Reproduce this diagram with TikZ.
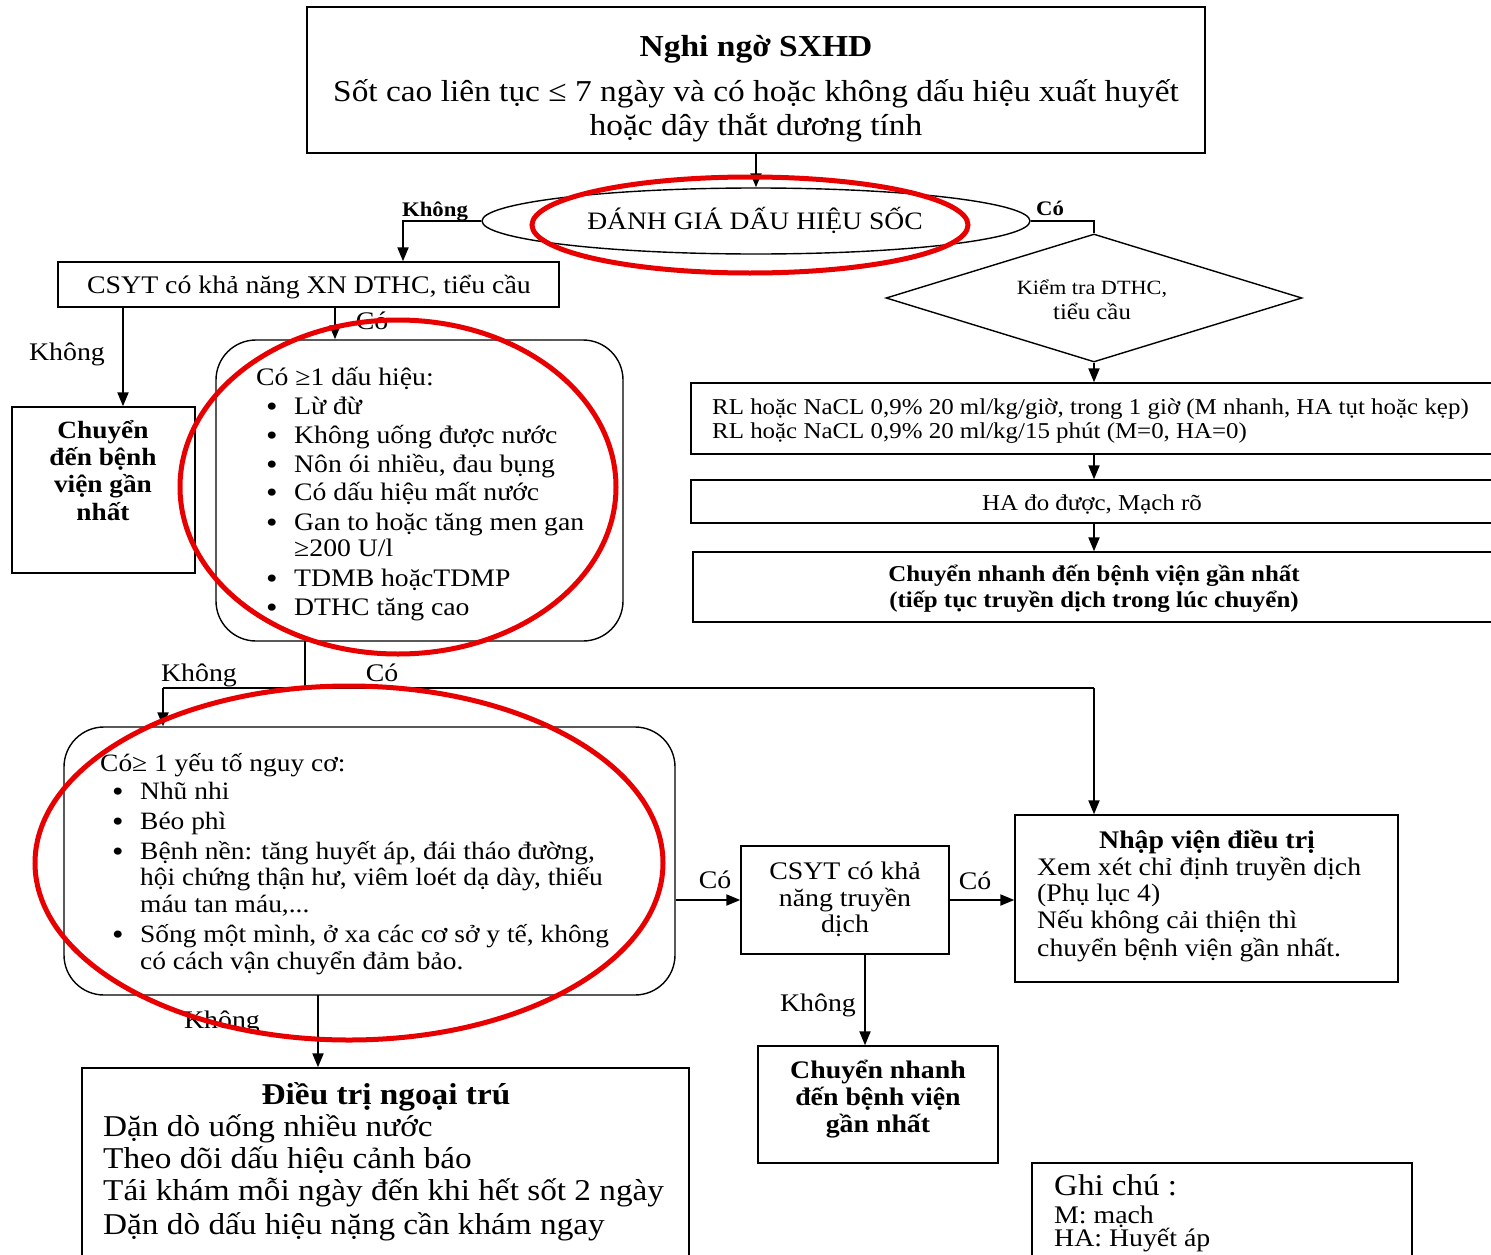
\documentclass[tikz,border=0pt]{standalone}
\usepackage{fontspec}
\setmainfont[FakeStretch=1.1]{Liberation Serif}
\usetikzlibrary{arrows.meta,shapes.geometric,fit}
% font size helper: sizes given in picture pixels, scaled once here
\newcommand{\fsz}[1]{\fontsize{\fpeval{#1*1.15}}{\fpeval{#1*1.15}}\selectfont}
\definecolor{ringred}{RGB}{232,0,0}
\tikzset{
  box/.style={draw, line width=1.4pt, inner sep=0pt},
  rbox/.style={box, rounded corners=40pt},
  arr/.style={line width=2pt, -{Triangle[length=14pt,width=11pt]}},
  ln/.style={line width=1.6pt},
  redring/.style={draw=ringred, line width=5pt, ellipse, inner sep=0pt},
  t/.style={inner sep=0pt, anchor=mid, yshift=-6.5pt},
  tl/.style={inner sep=0pt, anchor=mid west, yshift=-6.5pt},
  bul/.style={inner sep=0pt, anchor=base, yshift=-10.5pt, font=\fsz{26}},
}
\begin{document}
\begin{tikzpicture}[x=1pt,y=-1pt]
\useasboundingbox[fill=white] (0,0) rectangle (1491,1255);

% ---- boxes ----
\node[box, fit={(307,7) (1205,153)}] (top) {};
\node[box, ellipse, minimum width=548pt, minimum height=66pt] (shock) at (756,221) {};
\node[box, diamond, minimum width=416pt, minimum height=128pt] (dia) at (1094,298) {};
\node[box, fit={(691,383) (1500,454)}] (rl) {};
\node[box, fit={(691,480) (1500,523)}] (ha) {};
\node[box, fit={(693,552) (1500,622)}] (chn) {};
\node[box, fit={(58,262) (559,307)}] (csyt) {};
\node[box, fit={(12,407) (195,573)}] (cbv) {};
\node[rbox, fit={(216,340) (623,641)}] (sig) {};
\node[rbox, fit={(64,727) (675,995)}] (risk) {};
\node[box, fit={(741,846) (949,954)}] (csyt2) {};
\node[box, fit={(1015,815) (1398,982)}] (adm) {};
\node[box, fit={(758,1046) (998,1163)}] (cnb) {};
\node[box, fit={(82,1068) (689,1275)}] (out) {};
\node[box, fit={(1032,1163) (1412,1275)}] (note) {};

% ---- junction points ----
\coordinate (kL) at (403,221);
\coordinate (a1) at (123,307);
\coordinate (a2) at (335,307);
\coordinate (a3) at (305,641);
\coordinate (jl) at (163,688);
\coordinate (jr) at (1094,688);
\coordinate (a5) at (865,954);
\coordinate (a6) at (318,995);

% ---- connectors ----
\draw[arr] (top.south) -- (shock.north);
\draw[arr] (shock.west) -- (kL) -- (kL |- csyt.north);
\draw[ln] (shock.east) -| (dia.north);
\draw[arr] (dia.south) -- (dia.south |- rl.north);
\draw[arr] (rl.south -| dia.south) -- (ha.north -| dia.south);
\draw[arr] (ha.south -| dia.south) -- (chn.north -| dia.south);
\draw[arr] (a1) -- (a1 |- cbv.north);
\draw[arr] (a2) -- (a2 |- sig.north);
\draw[ln] (a3) -- (a3 |- jl);
\draw[ln] (jl) -- (jr);
\draw[arr] (jl) -- (jl |- risk.north);
\draw[arr] (jr) -- (jr |- adm.north);
\draw[arr] (csyt2.west -| risk.east) -- (csyt2.west);
\draw[arr] (csyt2.east) -- (csyt2.east -| adm.west);
\draw[arr] (a5) -- (a5 |- cnb.north);
\draw[arr] (a6) -- (a6 |- out.north);

% ---- texts ----
\node[t, font=\bfseries\fsz{26.5}] (t1) at (756,48) {Nghi ngờ SXHD};
\node[t, font=\fsz{26.4}] (t2) at (756,93) {Sốt cao liên tục ≤ 7 ngày và có hoặc không dấu hiệu xuất huyết};
\node[t, font=\fsz{26.4}] (t3) at (756,127) {hoặc dây thắt dương tính};
\node[t, font=\fsz{21.8}] (t4) at (755,221) {ĐÁNH GIÁ DẤU HIỆU SỐC};
\node[t, font=\bfseries\fsz{18}] (l1) at (435,208) {Không};
\node[t, font=\bfseries\fsz{18}] (l2) at (1050,207) {Có};
\node[t, font=\fsz{17.6}] (d1) at (1092,286) {Kiểm tra DTHC,};
\node[t, font=\fsz{19.6}] (d2) at (1092,311) {tiểu cầu};
\node[tl, font=\fsz{19.7}] (r1) at (712,406) {RL hoặc NaCL 0,9\% 20 ml/kg/giờ, trong 1 giờ (M nhanh, HA tụt hoặc kẹp)};
\node[tl, font=\fsz{19.7}] (r2) at (712,430) {RL hoặc NaCL 0,9\% 20 ml/kg/15 phút (M=0, HA=0)};
\node[t, font=\fsz{19.7}] (h1) at (1092,502) {HA đo được, Mạch rõ};
\node[t, font=\bfseries\fsz{19.7}] (c1) at (1094,573) {Chuyển nhanh đến bệnh viện gần nhất};
\node[t, font=\bfseries\fsz{19.7}] (c2) at (1094,599) {(tiếp tục truyền dịch trong lúc chuyển)};

\node[t, font=\fsz{22}] (s0) at (309,285) {CSYT có khả năng XN DTHC, tiểu cầu};
\node[t, font=\fsz{22}] (l3) at (67,352) {Không};
\node[t, font=\fsz{22}] (l4) at (372,321) {Có};
\node[t, font=\bfseries\fsz{21.6}] (b1) at (103,430) {Chuyển};
\node[t, font=\bfseries\fsz{21.6}] (b2) at (103,457) {đến bệnh};
\node[t, font=\bfseries\fsz{21.6}] (b3) at (103,484) {viện gần};
\node[t, font=\bfseries\fsz{21.6}] (b4) at (103,512) {nhất};

\begin{scope}[every node/.style={tl, font=\fsz{21.9}}]
\node (g0) at (256,377) {Có ≥1 dấu hiệu:};
\node (g1) at (294,406) {Lừ đừ};
\node (g2) at (294,435) {Không uống được nước};
\node (g3) at (294,464) {Nôn ói nhiều, đau bụng};
\node (g4) at (294,492) {Có dấu hiệu mất nước};
\node (g5) at (294,522) {Gan to hoặc tăng men gan};
\node (g6) at (294,548) {≥200 U/l};
\node (g7) at (294,578) {TDMB hoặcTDMP};
\node (g8) at (294,607) {DTHC tăng cao};
\end{scope}
\foreach \yy [count=\i] in {406,435,464,492,522,578,607} \node[bul] (gb\i) at (272,\yy) {•};

\node[t, font=\fsz{22}] (l5) at (199,673) {Không};
\node[t, font=\fsz{22}] (l6) at (382,673) {Có};

\begin{scope}[every node/.style={tl, font=\fsz{21.7}}]
\node (k0) at (100,763) {Có≥ 1 yếu tố nguy cơ:};
\node (k1) at (140,791) {Nhũ nhi};
\node (k2) at (140,821) {Béo phì};
\node (k3) at (140,851) {Bệnh nền: tăng huyết áp, đái tháo đường,};
\node (k4) at (140,877) {hội chứng thận hư, viêm loét dạ dày, thiếu};
\node (k5) at (140,904) {máu tan máu,...};
\node (k6) at (140,934) {Sống một mình, ở xa các cơ sở y tế, không};
\node (k7) at (140,961) {có cách vận chuyển đảm bảo.};
\end{scope}
\foreach \yy [count=\i] in {791,821,851,934} \node[bul] (kb\i) at (118,\yy) {•};

\node[t, font=\fsz{22}] (l7) at (715,880) {Có};
\node[t, font=\fsz{22}] (l8) at (975,881) {Có};
\node[t, font=\fsz{22}] (m1) at (845,871) {CSYT có khả};
\node[t, font=\fsz{22}] (m2) at (845,898) {năng truyền};
\node[t, font=\fsz{22}] (m3) at (845,924) {dịch};

\node[t, font=\bfseries\fsz{22}] (n0) at (1207,840) {Nhập viện điều trị};
\begin{scope}[every node/.style={tl, font=\fsz{21.9}}]
\node (n1) at (1037,867) {Xem xét chỉ định truyền dịch};
\node (n2) at (1037,893) {(Phụ lục 4)};
\node (n3) at (1037,920) {Nếu không cải thiện thì};
\node (n4) at (1037,948) {chuyển bệnh viện gần nhất.};
\end{scope}

\node[t, font=\fsz{22}] (l9) at (818,1003) {Không};
\node[t, font=\bfseries\fsz{22}] (q1) at (878,1070) {Chuyển nhanh};
\node[t, font=\bfseries\fsz{22}] (q2) at (878,1097) {đến bệnh viện};
\node[t, font=\bfseries\fsz{22}] (q3) at (878,1124) {gần nhất};

\node[t, font=\fsz{22}] (l10) at (222,1020) {Không};
\node[t, font=\bfseries\fsz{26.3}] (o0) at (386,1096) {Điều trị ngoại trú};
\begin{scope}[every node/.style={tl, font=\fsz{26.3}}]
\node (o1) at (103,1128) {Dặn dò uống nhiều nước};
\node (o2) at (103,1160) {Theo dõi dấu hiệu cảnh báo};
\node (o3) at (103,1192) {Tái khám mỗi ngày đến khi hết sốt 2 ngày};
\node (o4) at (103,1226) {Dặn dò dấu hiệu nặng cần khám ngay};
\end{scope}

\node[tl, font=\fsz{26.1}] (p0) at (1054,1187) {Ghi chú :};
\node[tl, font=\fsz{22}] (p1) at (1054,1215) {M: mạch};
\node[tl, font=\fsz{22}] (p2) at (1054,1238) {HA: Huyết áp};

% ---- red highlight rings ----
\node[redring, minimum width=436pt, minimum height=96pt] (ring1) at (750,225) {};
\node[redring, minimum width=436pt, minimum height=334pt] (ring2) at (398,487) {};
\node[redring, minimum width=628pt, minimum height=354pt] (ring3) at (349,863) {};
\end{tikzpicture}
\end{document}
